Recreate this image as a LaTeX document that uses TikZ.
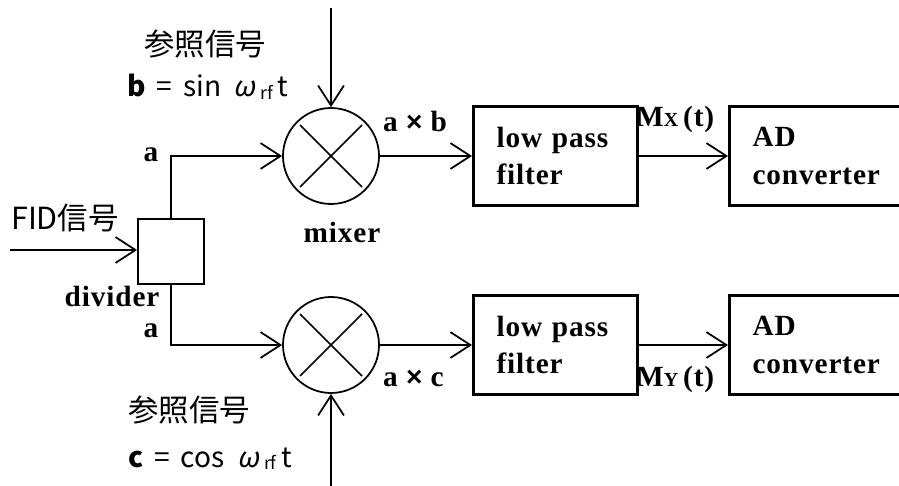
\documentclass[tikz,border=0pt]{standalone}
\usepackage{fontspec}
\setmainfont[LetterSpace=3]{Liberation Serif}
\newfontfamily\jp{Noto Sans CJK JP}
\newfontfamily\jpsl[FakeSlant=0.2]{Noto Sans CJK JP}
\newfontfamily\sansx{Liberation Sans}
\usetikzlibrary{arrows.meta}
\newcommand{\subrf}{\raisebox{-2pt}{\fontsize{15}{15}\selectfont rf}}
\newcommand{\tms}{{\sansx\bfseries\fontsize{24}{24}\selectfont ×}}
\begin{document}
\begin{tikzpicture}[x=0.03cm,y=-0.03cm,
  ln/.style={line width=1.5pt},
  arr/.style={ln,-{Straight Barb[length=17pt,width=22pt,line width=1.5pt]}},
  mix/.style={circle,draw,ln,minimum size=2.88cm,inner sep=0pt},
  blk/.style={draw,line width=2.6pt,minimum height=2.97cm,inner xsep=0.69cm,align=left,anchor=west,font=\bfseries\fontsize{25}{32}\selectfont},
  ser/.style={font=\bfseries\fontsize{25}{30}\selectfont,inner sep=0pt},
  jpt/.style={font=\jp\fontsize{26}{30}\selectfont,inner sep=0pt},
  eqt/.style={font=\jp\fontsize{24}{26}\selectfont,inner sep=0pt,anchor=base west}]
\useasboundingbox (0,0) rectangle (899,486);
\clip (0,0) rectangle (899,486);
% mixers
\node[mix] (mixA) at (331,156) {};
\node[mix] (mixB) at (331,345) {};
\draw[ln] ([shift={(-31,-31)}]mixA.center) -- ([shift={(31,31)}]mixA.center);
\draw[ln] ([shift={(-31,31)}]mixA.center) -- ([shift={(31,-31)}]mixA.center);
\draw[ln] ([shift={(-31,-31)}]mixB.center) -- ([shift={(31,31)}]mixB.center);
\draw[ln] ([shift={(-31,31)}]mixB.center) -- ([shift={(31,-31)}]mixB.center);
% divider
\node[draw,ln,minimum width=1.98cm,minimum height=1.95cm,inner sep=0pt] (div) at (171,251.5) {};
% blocks
\node[blk,text width=3.54cm] (lpfA) at (472,156) {low pass\\filter};
\node[blk,text width=4.02cm] (adA) at (728,156) {AD\\converter};
\node[blk,text width=3.54cm] (lpfB) at (472,345) {low pass\\filter};
\node[blk,text width=4.02cm] (adB) at (728,345) {AD\\converter};
% free ends
\coordinate (topin) at (331,8);
\coordinate (botin) at (331,486);
\coordinate (fidin) at (10,250);
% connectors
\draw[arr] (fidin) -- (fidin -| div.west);
\draw[arr] (div.north) |- (mixA.west);
\draw[arr] (div.south) |- (mixB.west);
\draw[arr] (topin) -- (mixA.north);
\draw[arr] (botin) -- (mixB.south);
\draw[arr] (mixA.east) -- (lpfA.west);
\draw[arr] (lpfA.east) -- (adA.west);
\draw[arr] (mixB.east) -- (lpfB.west);
\draw[arr] (lpfB.east) -- (adB.west);
% labels
\node[jpt] (ref1) at (205,44) {参照信号};
\node[eqt] (eqb) at (127,97) {\textbf{b} \,=\, sin \ {\jpsl ω}\,\subrf\,t};
\node[ser,anchor=base west] (lab) at (383,132) {a\;\tms\;b};
\node[ser,anchor=base] (la1) at (151,162) {a};
\node[ser,anchor=base] (mixlab) at (342,243) {mixer};
\node[jpt,anchor=west] (fid) at (11,218) {FID信号};
\node[ser,anchor=base] (divlab) at (112,307) {divider};
\node[ser,anchor=base] (la2) at (151,337) {a};
\node[ser,anchor=base west] (lac) at (383,386) {a\;\tms\;c};
\node[jpt] (ref2) at (189,410) {参照信号};
\node[eqt] (eqc) at (128,467) {\textbf{c} \,=\, cos \ {\jpsl ω}\,\subrf\,t};
\node[ser,anchor=base west] (mx) at (636,127) {M{\fontsize{17}{17}\selectfont X}\,(t)};
\node[ser,anchor=base west] (my) at (636,386) {M{\fontsize{17}{17}\selectfont Y}\,(t)};
\end{tikzpicture}
\end{document}
